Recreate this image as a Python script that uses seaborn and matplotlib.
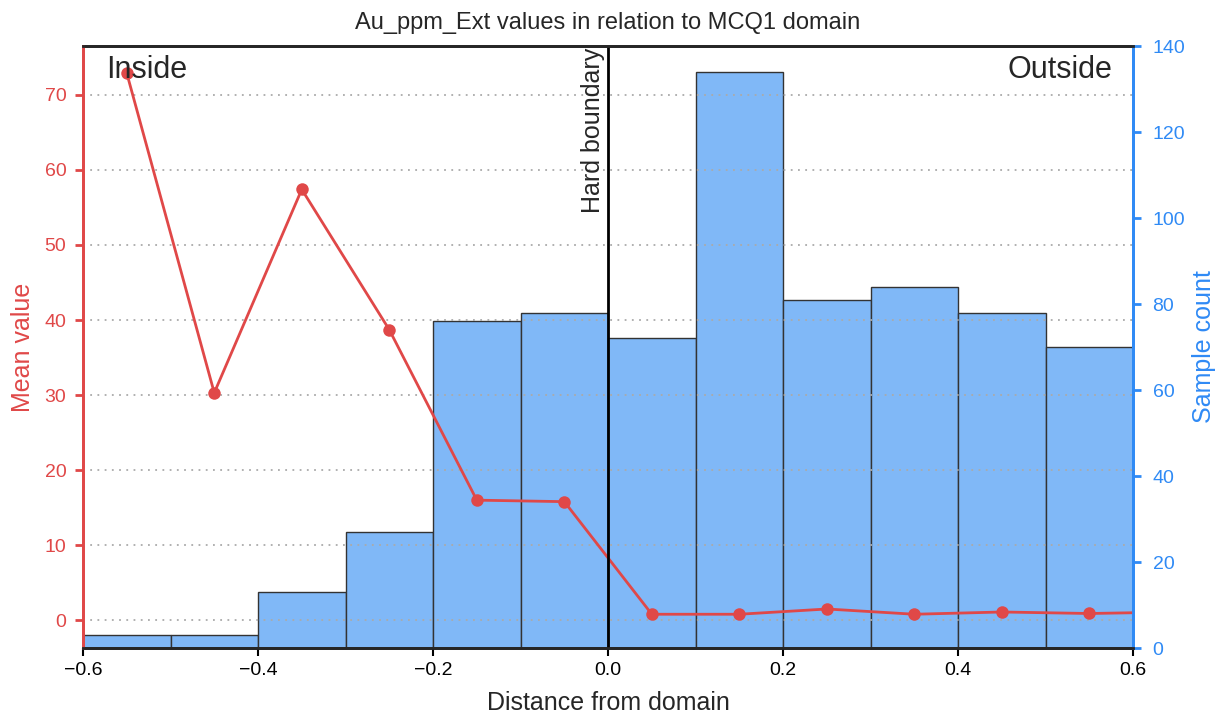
import numpy as np
import pandas as pd
import seaborn as sns
import matplotlib.pyplot as plt

# histogram bins (distance from domain) and sample counts
bin_edges = [-0.6, -0.5, -0.4, -0.3, -0.2, -0.1, 0.0, 0.1, 0.2, 0.3, 0.4, 0.5, 0.6]
bin_centers = [-0.55, -0.45, -0.35, -0.25, -0.15, -0.05, 0.05, 0.15, 0.25, 0.35, 0.45, 0.55]
sample_count = [3, 3, 13, 27, 76, 78, 72, 134, 81, 84, 78, 70]

# mean Au_ppm_Ext per bin (last point lies just outside the plotted range)
mean_x = [-0.55, -0.45, -0.35, -0.25, -0.15, -0.05, 0.05, 0.15, 0.25, 0.35, 0.45, 0.55, 0.65]
mean_value = [72.9, 30.3, 57.4, 38.7, 16.0, 15.8, 0.8, 0.8, 1.5, 0.8, 1.1, 0.9, 1.1]

RED = "#e04848"
BLUE = "#2f8af5"
BAR = "#80b8f7"

sns.set_style("ticks")
plt.rcParams["font.family"] = ["Liberation Sans", "DejaVu Sans"]

fig = plt.figure(figsize=(12.24, 7.17), dpi=100)
ax = fig.add_axes([0.0678, 0.0962, 0.858, 0.8396])
ax2 = ax.twinx()

hist_df = pd.DataFrame({"x": bin_centers, "n": sample_count})
sns.histplot(data=hist_df, x="x", weights="n", bins=bin_edges, ax=ax2,
             color=BAR, alpha=1.0, edgecolor="#333333", linewidth=1.0)

line_df = pd.DataFrame({"x": mean_x, "y": mean_value})
sns.lineplot(data=line_df, x="x", y="y", ax=ax, color=RED, marker="o",
             markersize=9, markeredgewidth=0, linewidth=2)

# line axis above the bars
ax.set_zorder(ax2.get_zorder() + 1)
ax.patch.set_visible(False)

ax.set_xlim(-0.6, 0.6)
ax.set_ylim(-3.7, 76.5)
ax2.set_ylim(0, 140)
ax.set_yticks([0, 10, 20, 30, 40, 50, 60, 70])
ax2.set_yticks([0, 20, 40, 60, 80, 100, 120, 140])
ax.set_xticks([-0.6, -0.4, -0.2, 0.0, 0.2, 0.4, 0.6])
ax.set_xticklabels(["\u22120.6", "\u22120.4", "\u22120.2", "0.0", "0.2", "0.4", "0.6"])

ax.yaxis.grid(True, linestyle=(0, (1, 3)), color="#aaaaaa", linewidth=1.3)

ax.axvline(0, color="black", linewidth=2)
ax.text(-0.003, 76.3, "Hard boundary", rotation=90, ha="right", va="top", fontsize=18)
ax.text(0.022, 0.985, "Inside", transform=ax.transAxes, ha="left", va="top", fontsize=22)
ax.text(0.98, 0.985, "Outside", transform=ax.transAxes, ha="right", va="top", fontsize=22)

ax.set_xlabel("Distance from domain", fontsize=18, labelpad=9)
ax.set_ylabel("Mean value", fontsize=18, color=RED, labelpad=7)
ax2.set_ylabel("Sample count", fontsize=18, color=BLUE, labelpad=5)
ax2.set_xlabel("")
ax.set_title("Au_ppm_Ext values in relation to MCQ1 domain", fontsize=17, pad=12)

ax.tick_params(axis="y", colors=RED, labelsize=14, length=6, width=2, pad=6)
ax.tick_params(axis="x", colors="black", labelsize=14, length=6, width=1.5, pad=4)
ax2.tick_params(axis="y", colors=BLUE, labelsize=14, length=6, width=2, pad=8)

for a in (ax, ax2):
    a.spines["left"].set_color(RED)
    a.spines["left"].set_linewidth(2)
    a.spines["right"].set_color(BLUE)
    a.spines["right"].set_linewidth(2)
    a.spines["top"].set_linewidth(2)
    a.spines["bottom"].set_linewidth(2)

fig.savefig("out.png", dpi=100)
